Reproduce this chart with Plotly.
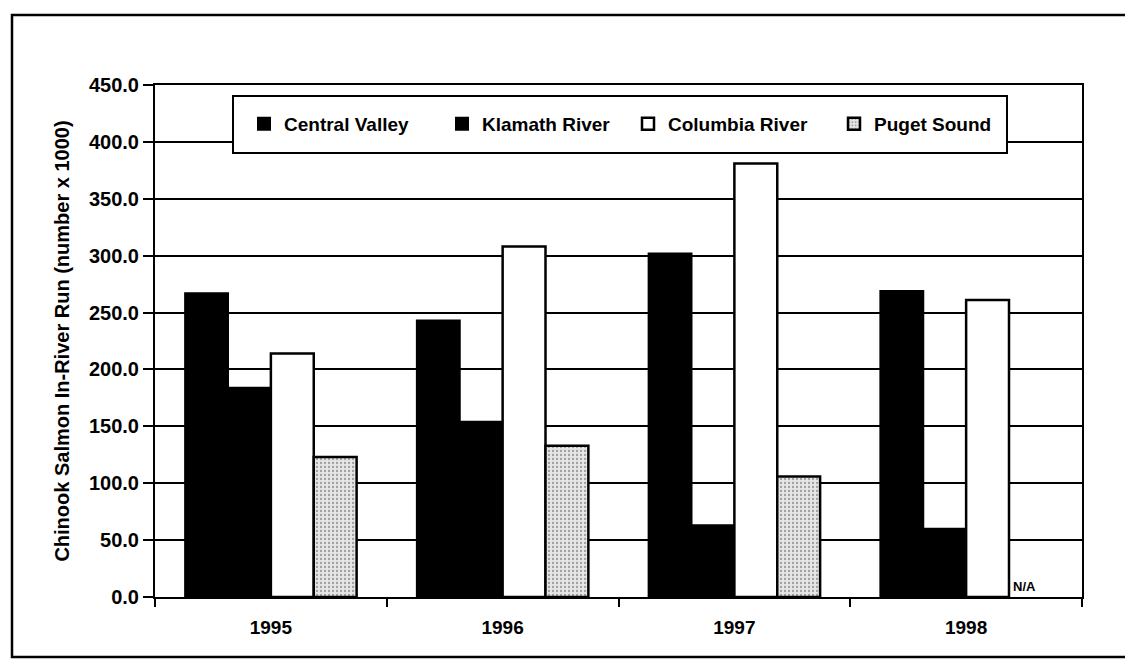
import plotly.graph_objects as go

years = ["1995", "1996", "1997", "1998"]
central_valley = [267, 243, 302, 269]
klamath_river = [184, 154, 63, 60]
columbia_river = [214, 308, 381, 261]
puget_sound = [123, 133, 106, None]
series_names = ["Central Valley", "Klamath River", "Columbia River", "Puget Sound"]
y_ticks = [0, 50, 100, 150, 200, 250, 300, 350, 400, 450]

FONT = "Liberation Sans, Arial, sans-serif"

W, H = 1133, 670
OFF = 8  # page body margin
SL, ST, SR, SB = 155, 85, 1082, 597  # plot area in screen pixels
L, T = SL - OFF, ST - OFF
R, B = W - (SR - OFF), H - (SB - OFF)

def px(x):
    return (x - SL) / (SR - SL)

def py(y):
    return (SB - y) / (SB - ST)

legend_keys = ["legend", "legend2", "legend3", "legend4"]
legend_x = [244, 442, 628, 834]

fig = go.Figure()
fig.add_trace(go.Bar(name=series_names[0], x=years, y=central_valley, legend=legend_keys[0],
                     marker=dict(color="black", line=dict(color="black", width=2))))
fig.add_trace(go.Bar(name=series_names[1], x=years, y=klamath_river, legend=legend_keys[1],
                     marker=dict(color="black", line=dict(color="black", width=2))))
fig.add_trace(go.Bar(name=series_names[2], x=years, y=columbia_river, legend=legend_keys[2],
                     marker=dict(color="white", line=dict(color="black", width=2.5))))
fig.add_trace(go.Bar(name=series_names[3], x=years, y=puget_sound, legend=legend_keys[3],
                     marker=dict(color="#e6e6e6", line=dict(color="black", width=2.5),
                                 pattern=dict(shape=".", fgcolor="#555555", size=4, solidity=0.25))))

# outer frame of the scanned page
fig.add_shape(type="rect", xref="paper", yref="paper",
              x0=px(12), x1=px(1170), y0=py(657), y1=py(15),
              line=dict(color="black", width=2.5), fillcolor="rgba(0,0,0,0)", layer="below")
# legend box
fig.add_shape(type="rect", xref="paper", yref="paper",
              x0=px(233), x1=px(1007), y0=py(153), y1=py(96),
              line=dict(color="black", width=2), fillcolor="white", layer="above")

# N/A label for missing Puget Sound 1998 value (category index of 1998)
fig.add_annotation(x=years.index("1998"), y=0, xref="x", yref="y", text="N/A", showarrow=False,
                   xshift=58, yanchor="bottom", yshift=1,
                   font=dict(family=FONT, size=13, color="black", weight="bold"))

legend_common = dict(orientation="h", yanchor="middle", xanchor="left",
                     bgcolor="rgba(0,0,0,0)", borderwidth=0,
                     font=dict(family=FONT, size=19, color="black", weight="bold"))
legends = {}
for key, lx in zip(legend_keys, legend_x):
    legends[key] = dict(legend_common, x=px(lx), y=py(124))

fig.update_layout(
    width=W, height=H,
    margin=dict(l=L, r=R, t=T, b=B),
    paper_bgcolor="white", plot_bgcolor="white",
    barmode="group", bargap=0.26, bargroupgap=0,
    font=dict(family=FONT, color="black"),
    showlegend=True,
    **legends,
    xaxis=dict(type="category", range=[-0.5, 3.5], showline=True, linecolor="black", linewidth=2, mirror=True,
               ticks="outside", tickson="boundaries", ticklen=8, tickcolor="black", tickwidth=1.5,
               ticklabelstandoff=12,
               tickfont=dict(family=FONT, size=19, color="black", weight="bold"),
               showgrid=False),
    yaxis=dict(range=[0, 450], tickvals=y_ticks, tickformat=".1f",
               showline=True, linecolor="black", linewidth=2, mirror=True,
               ticks="outside", ticklen=10, tickcolor="black", tickwidth=1.5,
               showgrid=True, gridcolor="black", gridwidth=1.5,
               zeroline=False,
               tickfont=dict(family=FONT, size=20, color="black", weight="bold"),
               title=dict(text="Chinook Salmon In-River Run (number x 1000)", standoff=14,
                          font=dict(family=FONT, size=20, color="black", weight="bold"))),
)

fig.write_html("out.html")
